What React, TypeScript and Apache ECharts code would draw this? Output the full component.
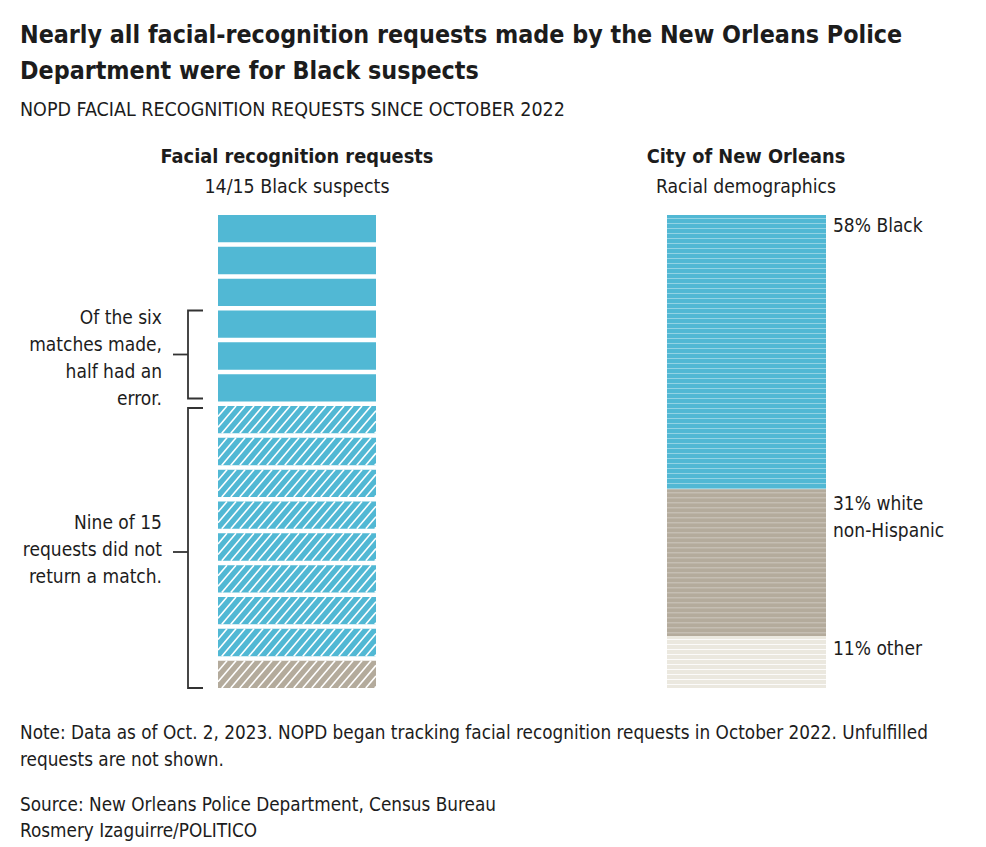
import React, { useEffect, useRef } from "react";
import * as echarts from "echarts";

// ---- Data ----
const requestRace = [
  "Black", "Black", "Black", "Black", "Black", "Black", "Black",
  "Black", "Black", "Black", "Black", "Black", "Black", "Black", "Not Black",
];
const requestMatched = [
  true, true, true, true, true, true,
  false, false, false, false, false, false, false, false, false,
];
const demoGroups = ["Black", "white non-Hispanic", "other"];
const demoShares = [58, 31, 11];
const demoLabels = [["58% Black"], ["31% white", "non-Hispanic"], ["11% other"]];
const bracketRanges = [
  { from: 3, to: 6, lines: ["Of the six", "matches made,", "half had an", "error."] },
  { from: 6, to: 15, lines: ["Nine of 15", "requests did not", "return a match."] },
];

const FONT = '"Liberation Sans Narrow", "DejaVu Sans Condensed", "Roboto", sans-serif';
const BLUE = "#51b8d4";
const TAN = "#b4ab9c";
const OTHER = "#ebe8df";
const TXT = "#1c1c1c";
const GAP = 4.5;

export default function App() {
  const ref = useRef<HTMLDivElement>(null);
  useEffect(() => {
    if (!ref.current) return;
    const chart = echarts.init(ref.current, null, { renderer: "svg" });

    const leftData = requestRace.map((r, i) => [i, r === "Black" ? 0 : 1, requestMatched[i] ? 1 : 0]);
    let acc = 0;
    const rightData = demoShares.map((v, i) => {
      const d = [acc, acc + v, i];
      acc += v;
      return d;
    });
    const bracketData = bracketRanges.map((b, i) => [b.from, b.to, i]);

    const renderBlock = (params: any, api: any) => {
      const i = api.value(0);
      const black = api.value(1) === 0;
      const matched = api.value(2) === 1;
      const p0 = api.coord([0, i]);
      const p1 = api.coord([1, i + 1]);
      const x0 = p0[0], y0 = p0[1], x1 = p1[0], y1 = p1[1] - GAP;
      const h = y1 - y0;
      const children: any[] = [
        { type: "rect", shape: { x: x0, y: y0, width: x1 - x0, height: h }, style: { fill: black ? BLUE : TAN } },
      ];
      if (!matched) {
        const dx = h * 0.85;
        const step = 9;
        for (let xs = x0 - dx; xs < x1; xs += step) {
          let sx = xs, sy = y1, ex = xs + dx, ey = y0;
          if (sx < x0) { sy = y1 - ((x0 - xs) / dx) * h; sx = x0; }
          if (ex > x1) { ey = y1 - ((x1 - xs) / dx) * h; ex = x1; }
          if (ex - sx < 0.5) continue;
          children.push({
            type: "line",
            shape: { x1: sx, y1: sy, x2: ex, y2: ey },
            style: { stroke: "#ffffff", lineWidth: 1.6 },
          });
        }
      }
      return { type: "group", children };
    };

    const stripeCol = ["rgba(255,255,255,0.38)", "rgba(255,255,255,0.35)", "rgba(255,255,255,0.85)"];
    const fills = [BLUE, TAN, OTHER];
    const labelOffsets = [10, 14, 12];

    const renderDemo = (params: any, api: any) => {
      const s = api.value(0);
      const e = api.value(1);
      const idx = api.value(2);
      const p0 = api.coord([0, s]);
      const p1 = api.coord([1, e]);
      const x0 = p0[0], y0 = p0[1], x1 = p1[0], y1 = p1[1];
      const children: any[] = [
        { type: "rect", shape: { x: x0, y: y0, width: x1 - x0, height: y1 - y0 }, style: { fill: fills[idx] } },
      ];
      for (let y = y0 + 3; y < y1 - 1; y += 5) {
        children.push({
          type: "line",
          shape: { x1: x0, y1: y + 0.5, x2: x1, y2: y + 0.5 },
          style: { stroke: stripeCol[idx], lineWidth: 1 },
        });
      }
      demoLabels[idx].forEach((t, k) => {
        children.push({
          type: "text",
          style: {
            text: t, x: x1 + 7, y: y0 + labelOffsets[idx] + k * 27,
            fill: TXT, font: `19px ${FONT}`, textAlign: "left", textVerticalAlign: "middle",
          },
        });
      });
      return { type: "group", children };
    };

    const renderBracket = (params: any, api: any) => {
      const from = api.value(0);
      const to = api.value(1);
      const idx = api.value(2);
      const pTop = api.coord([0, from]);
      const pBot = api.coord([0, to]);
      const bx = pTop[0] - 30;
      const yt = pTop[1] + (idx === 0 ? 0 : 2);
      const yb = pBot[1] - GAP - (idx === 0 ? 3 : 0);
      const ym = (yt + yb) / 2 + (idx === 0 ? 0 : 4);
      const st = { stroke: "#333333", lineWidth: 1.8 };
      const children: any[] = [
        { type: "polyline", shape: { points: [[bx + 15, yt], [bx, yt], [bx, yb], [bx + 15, yb]] }, style: { ...st, fill: null } },
        { type: "line", shape: { x1: bx - 15, y1: ym, x2: bx, y2: ym }, style: st },
      ];
      const lines = bracketRanges[idx].lines;
      const lh = 26.7;
      const startY = ym + (idx === 0 ? 3 : -3) - ((lines.length - 1) * lh) / 2;
      lines.forEach((t, k) => {
        children.push({
          type: "text",
          style: {
            text: t, x: bx - 26, y: startY + k * lh,
            fill: TXT, font: `19px ${FONT}`, textAlign: "right", textVerticalAlign: "middle",
          },
        });
      });
      return { type: "group", children };
    };

    const txt = (text: string, x: number, y: number, font: string, align = "left") => ({
      type: "text",
      style: { text, x, y, font, fill: TXT, textAlign: align, textVerticalAlign: "middle" },
    });

    chart.setOption({
      animation: false,
      backgroundColor: "#ffffff",
      grid: [
        { left: 218, top: 215, width: 158, height: 473 + GAP },
        { left: 667, top: 215, width: 159, height: 473 },
      ],
      xAxis: [
        { type: "value", gridIndex: 0, min: 0, max: 1, show: false },
        { type: "value", gridIndex: 1, min: 0, max: 1, show: false },
      ],
      yAxis: [
        { type: "value", gridIndex: 0, min: 0, max: 15, inverse: true, show: false },
        { type: "value", gridIndex: 1, min: 0, max: 100, inverse: true, show: false },
      ],
      series: [
        { type: "custom", xAxisIndex: 0, yAxisIndex: 0, data: leftData, renderItem: renderBlock, silent: true },
        { type: "custom", xAxisIndex: 1, yAxisIndex: 1, data: rightData, renderItem: renderDemo, silent: true },
        { type: "custom", xAxisIndex: 0, yAxisIndex: 0, data: bracketData, renderItem: renderBracket, silent: true },
      ],
      graphic: [
        txt("Nearly all facial-recognition requests made by the New Orleans Police", 20, 34, `bold 24.8px ${FONT}`),
        txt("Department were for Black suspects", 20, 70, `bold 24.8px ${FONT}`),
        txt("NOPD FACIAL RECOGNITION REQUESTS SINCE OCTOBER 2022", 20, 109, `19.5px ${FONT}`),
        txt("Facial recognition requests", 297, 156, `bold 19.8px ${FONT}`, "center"),
        txt("14/15 Black suspects", 297, 186, `19.4px ${FONT}`, "center"),
        txt("City of New Orleans", 746, 156, `bold 19.8px ${FONT}`, "center"),
        txt("Racial demographics", 746, 186, `19.2px ${FONT}`, "center"),
        txt("Note: Data as of Oct. 2, 2023. NOPD began tracking facial recognition requests in October 2022. Unfulfilled", 20, 732, `18.8px ${FONT}`),
        txt("requests are not shown.", 20, 759, `18.8px ${FONT}`),
        txt("Source: New Orleans Police Department, Census Bureau", 20, 804, `18.8px ${FONT}`),
        txt("Rosmery Izaguirre/POLITICO", 20, 830, `18.8px ${FONT}`),
      ],
    });
    return () => chart.dispose();
  }, []);
  return (
    <div
      ref={ref}
      style={{ position: "absolute", left: 0, top: 0, width: 986, height: 847, background: "#fff" }}
    />
  );
}
